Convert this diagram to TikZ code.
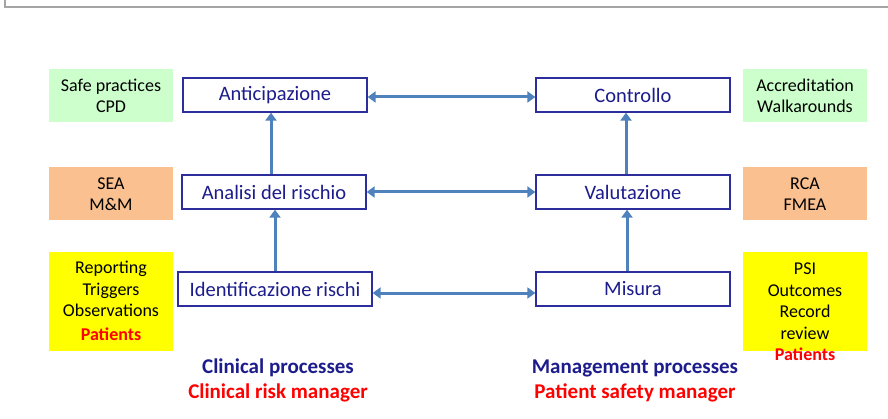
\documentclass[tikz,border=0pt]{standalone}
\usepackage{fontspec}
\setmainfont{Carlito}
\usepackage{xcolor}
\usetikzlibrary{arrows.meta,positioning,calc}
\definecolor{procblue}{RGB}{28,28,140}
\definecolor{boxline}{RGB}{45,45,155}
\definecolor{arrowblue}{RGB}{79,129,189}
\definecolor{toolgreen}{RGB}{204,255,204}
\definecolor{toolorange}{RGB}{250,192,144}
\definecolor{toolyellow}{RGB}{255,255,0}
\definecolor{framegray}{RGB}{165,165,165}

\begin{document}
\begin{tikzpicture}[x=1pt, y=1pt,
    procbox/.style={draw=boxline, line width=1.3pt, fill=white, minimum height=34pt, inner sep=0pt, text=procblue, font=\fontsize{20.5}{24}\selectfont},
    toolbox/.style={minimum width=124pt, inner sep=0pt, align=center, font=\fontsize{18}{21.5}\selectfont},
    flow/.style={arrowblue, line width=3pt, -{Triangle[width=11pt,length=8pt]}},
    swap/.style={arrowblue, line width=3pt, {Triangle[width=11pt,length=8pt]}-{Triangle[width=11pt,length=8pt]}},
    heading/.style={font=\bfseries\fontsize{21}{24}\selectfont}]
    \useasboundingbox (0,0) rectangle (888,418);
    \draw[framegray, line width=1.5pt] (5,418) -- (5,411) -- (888,411);

    % Clinical processes (left column)
    \node[procbox, minimum width=184pt] (antic) at (275,323) {Anticipazione};
    \node[procbox, minimum width=184pt] (analisi) at (274,226) {Analisi del rischio};
    \node[procbox, minimum width=194pt] (ident) at (275,129) {Identificazione rischi};

    % Management processes (right column)
    \node[procbox, minimum width=194pt] (controllo) at (633,323) {Controllo};
    \node[procbox, minimum width=194pt] (valut) at (633,226) {Valutazione};
    \node[procbox, minimum width=194pt] (misura) at (633,129) {Misura};

    % Tools, left
    \node[toolbox, fill=toolgreen, minimum height=53pt] (safe) at (111,322) {Safe practices\\CPD};
    \node[toolbox, fill=toolorange, minimum height=53pt] (sea) at (111,224) {SEA\\M\&M};
    \node[toolbox, fill=toolyellow, minimum height=99pt] (report) at (111,117)
        {Reporting\\Triggers\\Observations\\[2pt]\textcolor{red}{\textbf{Patients}}};

    % Tools, right
    \node[toolbox, fill=toolgreen, minimum height=53pt] (accred) at (805,322) {Accreditation\\Walkarounds};
    \node[toolbox, fill=toolorange, minimum height=53pt] (rca) at (805,224) {RCA\\FMEA};
    \node[toolbox, fill=toolyellow, minimum height=99pt] (psi) at (805,117) {};
    \node[toolbox] (psitext) at (805,106)
        {PSI\\Outcomes\\Record\\review\\\textcolor{red}{\textbf{Patients}}};

    % Links between the columns
    \draw[swap] ([yshift=-2pt]antic.east) -- ([yshift=-2pt]controllo.west);
    \draw[swap] (analisi.east) -- (valut.west);
    \draw[swap] ([yshift=-4pt]ident.east) -- ([yshift=-4pt]misura.west);

    % Upward flow
    \draw[flow] ([xshift=-3pt]analisi.north) -- ([xshift=-4pt]antic.south);
    \draw[flow] (ident.north) -- ([xshift=1pt]analisi.south);
    \draw[flow] ([xshift=-7pt]valut.north) -- ([xshift=-7pt]controllo.south);
    \draw[flow] ([xshift=-6pt]misura.north) -- ([xshift=-6pt]valut.south);

    % Column headings
    \node[heading, text=procblue] (clinproc) at (278,50) {Clinical processes};
    \node[heading, text=red] (clinrisk) at (278,25) {Clinical risk manager};
    \node[heading, text=procblue] (mgmtproc) at (635,50) {Management processes};
    \node[heading, text=red] (safety) at (635,25) {Patient safety manager};
\end{tikzpicture}
\end{document}
